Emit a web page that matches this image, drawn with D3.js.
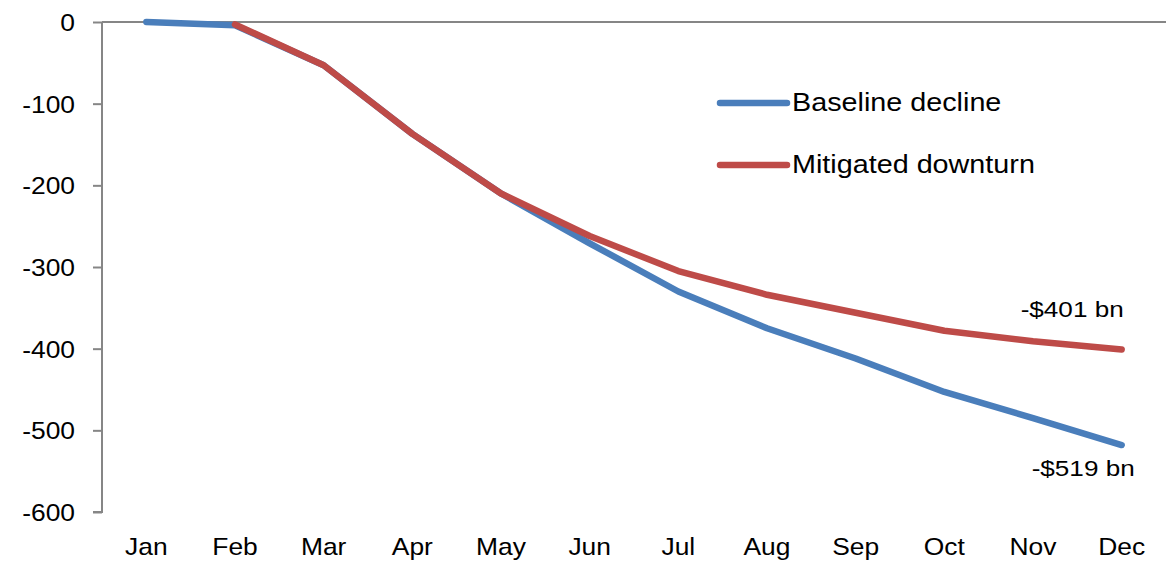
<!DOCTYPE html>
<html>
<head>
<meta charset="utf-8">
<script src="https://cdn.jsdelivr.net/npm/d3@7"></script>
<style>
  body { margin: 0; background: #fff; }
  text { font-family: "Liberation Sans", Arial, sans-serif; fill: #000; }
</style>
</head>
<body>
<div id="chart"></div>
<script>
var months = ['Jan', 'Feb', 'Mar', 'Apr', 'May', 'Jun', 'Jul', 'Aug', 'Sep', 'Oct', 'Nov', 'Dec'];
var baseline = [0, -4, -53, -137, -210, -271, -330, -375, -412, -453, -485, -518];
var mitigated = [null, -3, -53, -137, -210, -262, -305, -334, -356, -378, -391, -401];
var yTicks = [0, -100, -200, -300, -400, -500, -600];
var seriesNames = ['Baseline decline', 'Mitigated downturn'];
var endLabels = ['-$519 bn', '-$401 bn'];

var W = 1169, H = 563;
var margin = {top: 22, right: 3, bottom: 51, left: 102},
    width = W - margin.left - margin.right,
    height = H - margin.top - margin.bottom;

var svg = d3.select('#chart').append('svg')
  .attr('width', W).attr('height', H)
  .append('g')
  .attr('transform', 'translate(' + margin.left + ',' + margin.top + ')');

var x = d3.scaleBand().domain(months).range([0, width]);
var y = d3.scaleLinear().domain([-600, 0]).range([height, 0]);
var stretch = 1.1; // text in the source is drawn a bit wide

function cx(m) { return x(m) + x.bandwidth() / 2; }

// Y axis
var yAxis = svg.append('g')
  .attr('class', 'yaxis')
  .call(d3.axisLeft(y).tickValues(yTicks).tickSize(9).tickPadding(0));
yAxis.selectAll('line, path').style('stroke', '#868686').style('stroke-width', '2px');
yAxis.select('path.domain').attr('d', 'M-9,' + height + 'H0V0');
yAxis.selectAll('text').remove();
yAxis.selectAll('.tick').append('text')
  .attr('text-anchor', 'end')
  .attr('dy', '0.35em')
  .attr('transform', 'translate(-27,0) scale(' + stretch + ',1)')
  .style('font-size', '24px')
  .text(function(d) { return String(d); });

// zero line on top
svg.append('line')
  .attr('x1', 0).attr('x2', width)
  .attr('y1', y(0)).attr('y2', y(0))
  .style('stroke', '#868686').style('stroke-width', '2px');

// month labels
svg.selectAll('text.month')
  .data(months)
  .enter().append('text')
  .attr('class', 'month')
  .attr('text-anchor', 'middle')
  .attr('transform', function(d) { return 'translate(' + cx(d) + ',' + (height + 43) + ') scale(' + stretch + ',1)'; })
  .style('font-size', '24px')
  .text(function(d) { return d; });

var colors = ['#4A7EBB', '#BE4B48'];
var series = [baseline, mitigated];

var line = d3.line()
  .defined(function(d) { return d.v !== null; })
  .x(function(d) { return cx(d.m); })
  .y(function(d) { return y(d.v); });

series.forEach(function(s, i) {
  var pts = months.map(function(m, j) { return {m: m, v: s[j]}; });
  svg.append('path')
    .datum(pts)
    .attr('d', line)
    .attr('fill', 'none')
    .style('stroke', colors[i])
    .style('stroke-width', '6.5px')
    .style('stroke-linejoin', 'round')
    .style('stroke-linecap', 'round');
});

// legend
var legend = svg.selectAll('g.legend')
  .data(seriesNames)
  .enter().append('g')
  .attr('class', 'legend')
  .attr('transform', function(d, i) { return 'translate(' + (720 - margin.left) + ',' + (103 - margin.top + i * 62) + ')'; });
legend.append('line')
  .attr('x1', 0).attr('x2', 67)
  .style('stroke', function(d, i) { return colors[i]; })
  .style('stroke-width', '6.5px')
  .style('stroke-linecap', 'round');
legend.append('text')
  .attr('transform', 'translate(72,8) scale(1.15,1)')
  .style('font-size', '25px')
  .text(function(d) { return d; });

// end labels
var last = months[months.length - 1];
svg.append('text')
  .attr('text-anchor', 'end')
  .attr('transform', 'translate(' + (cx(last) + 13) + ',' + (y(baseline[11]) + 31) + ') scale(1.16,1)')
  .style('font-size', '22.5px')
  .text(endLabels[0]);
svg.append('text')
  .attr('text-anchor', 'end')
  .attr('transform', 'translate(' + (cx(last) + 2) + ',' + (y(mitigated[11]) - 32) + ') scale(1.16,1)')
  .style('font-size', '22.5px')
  .text(endLabels[1]);
</script>
</body>
</html>
